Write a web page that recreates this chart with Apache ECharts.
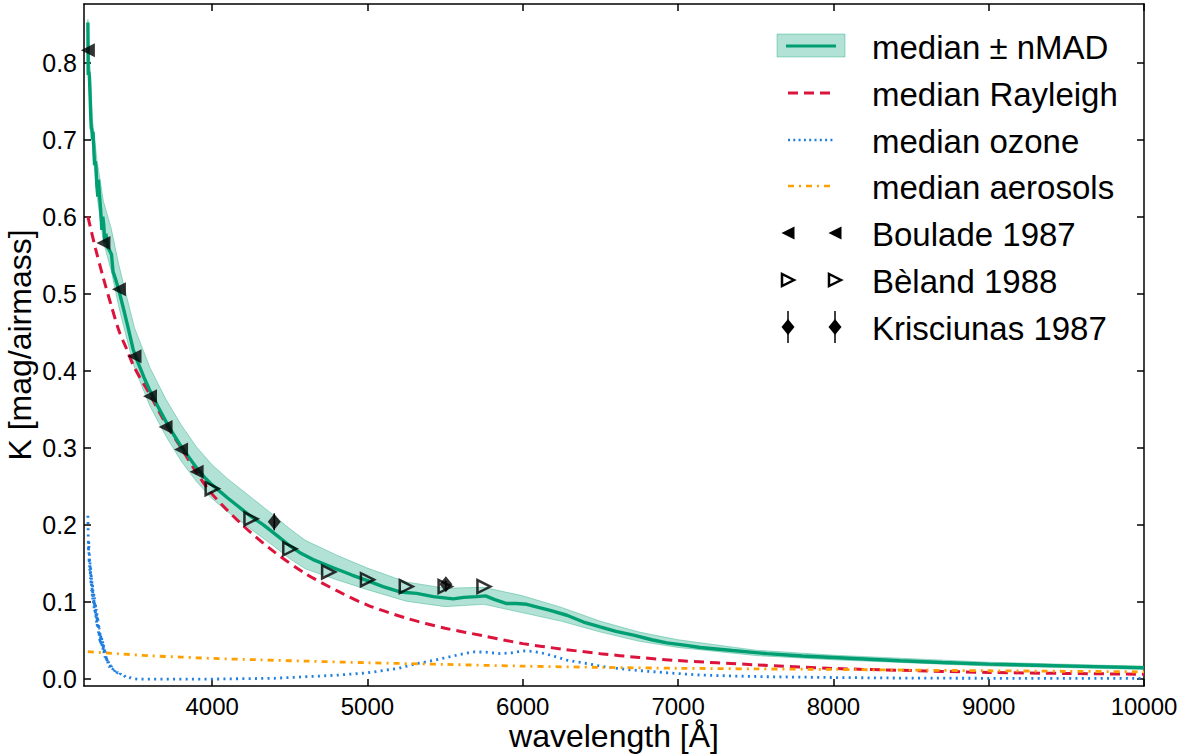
<!DOCTYPE html>
<html><head><meta charset="utf-8">
<script src="https://cdn.jsdelivr.net/npm/echarts@6/dist/echarts.min.js"></script>
<style>html,body{margin:0;padding:0;background:#fff}#c{width:1186px;height:756px}</style>
</head><body><div id="c"></div><script>
// ---------------- data ----------------
const medianWl = [3200,3202,3206,3210,3215,3219,3222,3226,3230,3233,3238,3243,3247,3252,3258,3264,3268,3274,3282,3290,3296,3302,3309,3316,3328,3340,3352,3362,3375,3390,3405,3430,3460,3491,3520,3560,3600,3650,3700,3750,3800,3850,3900,3950,4000,4100,4200,4250,4330,4400,4500,4565,4650,4780,4900,4995,5100,5209,5317,5424,5553,5620,5703,5760,5820,5897,5960,6026,6100,6176,6284,6391,6498,6600,6713,6830,6928,7040,7142,7350,7573,7800,8000,8200,8430,8700,9000,9300,9600,10000];
const medianK  = [0.852,0.784,0.788,0.781,0.752,0.727,0.715,0.712,0.700,0.710,0.690,0.667,0.672,0.665,0.640,0.626,0.648,0.630,0.610,0.583,0.600,0.590,0.566,0.578,0.560,0.556,0.551,0.529,0.521,0.511,0.500,0.480,0.455,0.428,0.412,0.392,0.374,0.354,0.335,0.318,0.302,0.288,0.274,0.262,0.252,0.235,0.219,0.211,0.200,0.189,0.173,0.164,0.155,0.1445,0.135,0.128,0.120,0.113,0.1112,0.107,0.104,0.106,0.107,0.108,0.103,0.098,0.098,0.097,0.093,0.089,0.0828,0.074,0.0677,0.062,0.057,0.051,0.047,0.044,0.041,0.037,0.033,0.030,0.028,0.026,0.0237,0.0215,0.0194,0.018,0.0165,0.0146];

const bandWl    = [3200,3230,3260,3300,3350,3400,3450,3500,3600,3700,3800,3900,4000,4100,4200,4300,4400,4500,4600,4800,5000,5250,5500,5750,6000,6250,6500,6750,7000,7500,8000,9000,10000];
const bandUpper = [0.856,0.725,0.672,0.620,0.585,0.537,0.496,0.456,0.404,0.364,0.330,0.301,0.278,0.260,0.244,0.228,0.212,0.195,0.180,0.161,0.144,0.126,0.118,0.119,0.108,0.093,0.075,0.061,0.051,0.0375,0.031,0.0219,0.0166];
const bandLower = [0.846,0.690,0.625,0.567,0.530,0.482,0.442,0.404,0.354,0.316,0.283,0.256,0.234,0.217,0.202,0.187,0.172,0.156,0.143,0.129,0.116,0.101,0.094,0.097,0.086,0.075,0.061,0.049,0.041,0.0305,0.025,0.0169,0.0126];

const rayleighWl = [3200,3250,3300,3350,3400,3450,3500,3600,3700,3800,3900,4000,4200,4400,4600,4800,5000,5250,5500,5750,6000,6250,6500,6750,7000,7500,8000,8500,9000,9500,10000];
const rayleighK  = [0.600,0.558,0.520,0.485,0.452,0.428,0.404,0.369,0.332,0.300,0.268,0.240,0.199,0.165,0.137,0.115,0.096,0.079,0.066,0.056,0.046,0.039,0.033,0.028,0.024,0.0185,0.0138,0.011,0.0086,0.0073,0.0063];

const ozoneWl = [3200,3202,3204,3206,3208,3210,3212,3214,3216,3218,3220,3222,3224,3226,3228,3230,3232,3234,3236,3238,3240,3242,3244,3246,3248,3250,3252,3254,3256,3258,3260,3262,3264,3266,3268,3270,3272,3274,3276,3278,3280,3283,3286,3289,3292,3295,3298,3301,3304,3307,3310,3313,3316,3319,3322,3326,3330,3334,3338,3343,3348,3353,3358,3364,3370,3377,3384,3392,3400,3410,3420,3432,3445,3460,3480,3520,3600,3800,4000,4200,4400,4600,4800,4995,5100,5200,5317,5420,5532,5620,5680,5760,5854,5930,6000,6060,6120,6180,6283,6390,6498,6600,6713,6820,6928,7040,7142,7350,7572,8000,8500,9000,10000];
const ozoneK  = [0.212,0.190,0.165,0.178,0.150,0.162,0.140,0.152,0.130,0.145,0.122,0.136,0.114,0.128,0.108,0.122,0.102,0.116,0.098,0.111,0.092,0.106,0.088,0.100,0.083,0.096,0.078,0.091,0.073,0.086,0.069,0.082,0.065,0.077,0.060,0.072,0.055,0.066,0.050,0.062,0.047,0.058,0.043,0.054,0.040,0.050,0.036,0.046,0.032,0.041,0.028,0.036,0.024,0.031,0.021,0.027,0.018,0.023,0.015,0.020,0.013,0.017,0.011,0.014,0.009,0.012,0.007,0.009,0.005,0.007,0.004,0.005,0.002,0.003,0.001,0.000,0.000,0.000,0.000,0.0005,0.001,0.003,0.005,0.008,0.011,0.014,0.020,0.024,0.029,0.033,0.0353,0.035,0.033,0.034,0.0366,0.036,0.034,0.031,0.0246,0.021,0.0168,0.014,0.0116,0.0098,0.0082,0.0066,0.0052,0.004,0.003,0.002,0.0012,0.001,0.001];

const aerosolWl = [3200,3400,3600,3800,4000,4300,4600,5000,5500,6000,6500,7000,7500,8000,8500,9000,9500,10000];
const aerosolK  = [0.0355,0.0328,0.0302,0.0285,0.0268,0.0250,0.0233,0.0212,0.0190,0.0168,0.0152,0.0140,0.0132,0.0125,0.0116,0.0108,0.0101,0.0094];

const bouladeWl = [3200,3300,3400,3500,3600,3700,3800,3900];
const bouladeK  = [0.816,0.566,0.506,0.419,0.367,0.327,0.298,0.269];
const belandWl  = [4000,4250,4500,4750,5000,5250,5500,5750];
const belandK   = [0.247,0.208,0.169,0.139,0.129,0.120,0.120,0.120];
const krisWl    = [4400,5505];
const krisK     = [0.204,0.123];
const krisErr   = [0.011,0.005];

const xTicks = [4000,5000,6000,7000,8000,9000,10000];
const yTicks = [0,0.1,0.2,0.3,0.4,0.5,0.6,0.7,0.8];
const legendLabels = ['median \u00b1 nMAD','median Rayleigh','median ozone','median aerosols','Boulade 1987','B\u00e8land 1988','Krisciunas 1987'];

// ---------------- styles ----------------
const FONT = '"Liberation Sans", Arial, Helvetica, sans-serif';
const GREEN = '#009E73', BAND = 'rgba(0,158,115,0.30)', BANDEDGE = 'rgba(0,158,115,0.35)';
const RED = '#DC143C', BLUE = '#1E7FE0', ORANGE = '#FFA000';
const X_MIN = 3175, X_MAX = 10000, Y_MIN = -0.009, Y_MAX = 0.876;

const zip = (a, b) => a.map((v, i) => [v, b[i]]);

const chart = echarts.init(document.getElementById('c'), null, {renderer: 'svg'});

function frameAxis(extra) {
  return Object.assign({
    type: 'value', splitLine: {show: false}, nameMoveOverlap: false,
    axisLine: {show: true, onZero: false, lineStyle: {color: '#000', width: 1.5}},
  }, extra);
}
const tick = vals => ({show: true, inside: true, length: 7, customValues: vals, lineStyle: {color: '#000', width: 1.5}});

const triLeft = 'path://M0,5L10,0L10,10Z';
const triRight = 'path://M10,5L0,0L0,10Z';

// legend (drawn as graphic)
const rowY = [46, 93, 140, 186, 233, 280, 327];
const legendG = [];
legendG.push({type: 'rect', shape: {x: 777, y: 34, width: 68, height: 23}, style: {fill: BAND, stroke: BANDEDGE, lineWidth: 1}});
legendG.push({type: 'line', shape: {x1: 786, y1: rowY[0], x2: 836, y2: rowY[0]}, style: {stroke: GREEN, lineWidth: 3}});
legendG.push({type: 'line', shape: {x1: 788, y1: rowY[1], x2: 830, y2: rowY[1]}, style: {stroke: RED, lineWidth: 3, lineDash: [10, 6]}});
legendG.push({type: 'line', shape: {x1: 788, y1: rowY[2], x2: 834, y2: rowY[2]}, style: {stroke: BLUE, lineWidth: 2.6, lineDash: [2, 3.3]}});
legendG.push({type: 'line', shape: {x1: 788, y1: rowY[3], x2: 832, y2: rowY[3]}, style: {stroke: ORANGE, lineWidth: 2.6, lineDash: [6, 5, 2, 5]}});
[788, 835].forEach(cx => {
  legendG.push({type: 'polygon', shape: {points: [[cx - 6.5, rowY[4]], [cx + 6.5, rowY[4] - 6.5], [cx + 6.5, rowY[4] + 6.5]]}, style: {fill: '#000'}});
  legendG.push({type: 'polygon', shape: {points: [[cx + 6, rowY[5]], [cx - 6, rowY[5] - 6], [cx - 6, rowY[5] + 6]]}, style: {fill: 'none', stroke: '#000', lineWidth: 2.5}});
  legendG.push({type: 'line', shape: {x1: cx, y1: rowY[6] - 16, x2: cx, y2: rowY[6] + 16}, style: {stroke: '#000', lineWidth: 1.5}});
  legendG.push({type: 'polygon', shape: {points: [[cx, rowY[6] - 8], [cx + 6.5, rowY[6]], [cx, rowY[6] + 8], [cx - 6.5, rowY[6]]]}, style: {fill: '#000'}});
});
legendLabels.forEach((t, i) => {
  legendG.push({type: 'text', x: 872, y: rowY[i] + 1, style: {text: t, fill: '#000', font: '33px ' + FONT, align: 'left', verticalAlign: 'middle'}});
});

const option = {
  animation: false,
  backgroundColor: '#fff',
  grid: {left: 84, right: 42, top: 4, bottom: 70, containLabel: false, outerBoundsMode: 'none'},
  xAxis: [
    frameAxis({min: X_MIN, max: X_MAX, position: 'bottom',
      name: 'wavelength [\u00c5]', nameLocation: 'middle', nameGap: 34,
      nameTextStyle: {fontSize: 32, color: '#000', fontFamily: FONT},
      axisTick: tick(xTicks),
      axisLabel: {show: true, customValues: xTicks, fontSize: 24, color: '#000', fontFamily: FONT, margin: 8, formatter: v => String(Math.round(v))}}),
    frameAxis({min: X_MIN, max: X_MAX, position: 'top', axisTick: tick(xTicks), axisLabel: {show: false}})
  ],
  yAxis: [
    frameAxis({min: Y_MIN, max: Y_MAX, position: 'left',
      name: 'K [mag/airmass]', nameLocation: 'middle', nameGap: 48,
      nameTextStyle: {fontSize: 32, color: '#000', fontFamily: FONT},
      axisTick: tick(yTicks),
      axisLabel: {show: true, customValues: yTicks, fontSize: 25, color: '#000', fontFamily: FONT, margin: 7, formatter: v => v.toFixed(1)}}),
    frameAxis({min: Y_MIN, max: Y_MAX, position: 'right', axisTick: tick(yTicks), axisLabel: {show: false}})
  ],
  graphic: legendG,
  series: [
    {
      type: 'custom', name: 'band', clip: true, z: 1,
      data: [[bandWl[0], bandUpper[0]]],
      renderItem: (params, api) => {
        const pts = [];
        for (let i = 0; i < bandWl.length; i++) pts.push(api.coord([bandWl[i], bandUpper[i]]));
        for (let i = bandWl.length - 1; i >= 0; i--) pts.push(api.coord([bandWl[i], bandLower[i]]));
        return {type: 'polygon', shape: {points: pts}, style: {fill: BAND, stroke: BANDEDGE, lineWidth: 1}};
      }
    },
    {type: 'line', name: 'median', data: zip(medianWl, medianK), showSymbol: false, z: 3,
     lineStyle: {color: GREEN, width: 3.4}},
    {type: 'line', name: 'Rayleigh', data: zip(rayleighWl, rayleighK), showSymbol: false, smooth: 0.3, z: 2,
     lineStyle: {color: RED, width: 3, type: [10, 6]}},
    {type: 'line', name: 'ozone', data: zip(ozoneWl, ozoneK), showSymbol: false, z: 2,
     lineStyle: {color: BLUE, width: 2.8, type: [2, 4.3]}},
    {type: 'line', name: 'aerosols', data: zip(aerosolWl, aerosolK), showSymbol: false, smooth: 0.3, z: 2,
     lineStyle: {color: ORANGE, width: 2.8, type: [6, 5, 2, 5]}},
    {type: 'scatter', name: 'Boulade 1987', data: zip(bouladeWl, bouladeK), symbol: triLeft, symbolSize: 14, z: 5,
     itemStyle: {color: '#000'}},
    {type: 'scatter', name: 'Beland 1988', data: zip(belandWl, belandK), symbol: triRight, symbolSize: 13, z: 5,
     itemStyle: {color: 'rgba(0,0,0,0)', borderColor: '#000', borderWidth: 2.5}},
    {type: 'custom', name: 'kris err', z: 5, clip: true,
     data: krisWl.map((w, i) => [w, krisK[i], krisErr[i]]),
     renderItem: (params, api) => {
       const p1 = api.coord([api.value(0), api.value(1) - api.value(2)]);
       const p2 = api.coord([api.value(0), api.value(1) + api.value(2)]);
       return {type: 'line', shape: {x1: p1[0], y1: p1[1], x2: p2[0], y2: p2[1]}, style: {stroke: '#000', lineWidth: 1.5}};
     }},
    {type: 'scatter', name: 'Krisciunas 1987', data: zip(krisWl, krisK), symbol: 'diamond', symbolSize: [13, 16], z: 6,
     itemStyle: {color: '#000'}}
  ]
};
chart.setOption(option);
</script></body></html>
